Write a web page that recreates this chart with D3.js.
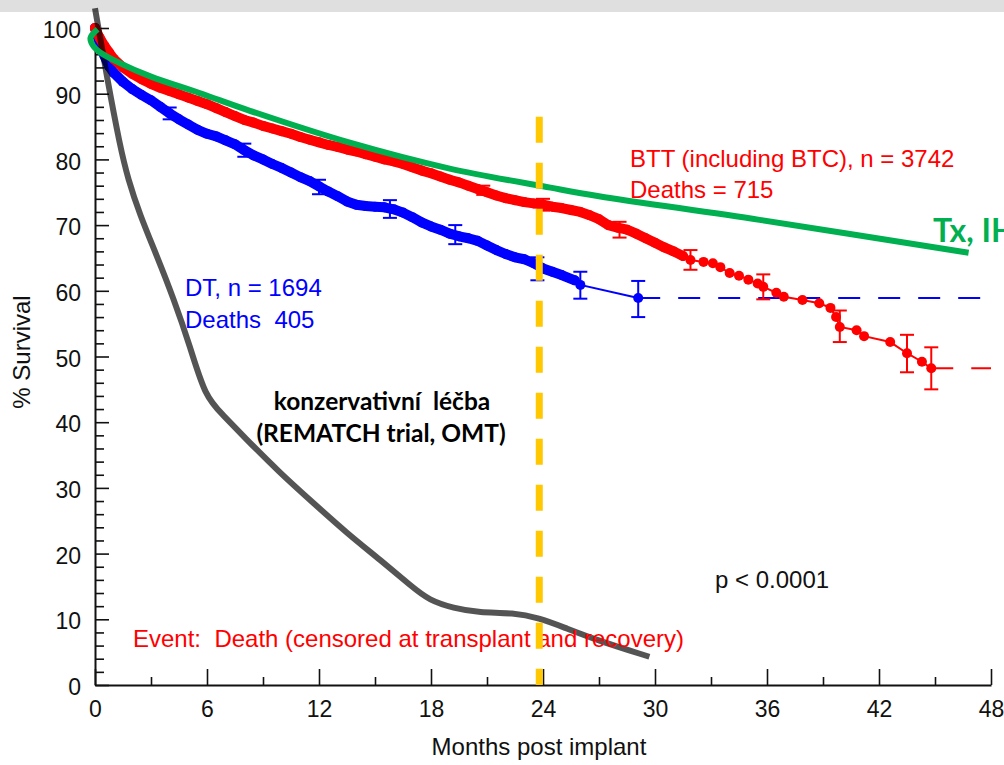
<!DOCTYPE html>
<html>
<head>
<meta charset="utf-8">
<script src="https://cdn.jsdelivr.net/npm/d3@7"></script>
<style>
  html, body { margin: 0; padding: 0; background: #fff; }
  svg { display: block; }
  text { font-family: Arial, "Liberation Sans", sans-serif; }
</style>
</head>
<body>
<svg id="chart" width="1004" height="765"></svg>
<script>
// BTT (incl. BTC) Kaplan-Meier points: [month, % survival]
const btt = [[0,100],[0.1,99.3],[0.25,98.5],[0.5,97.3],[0.75,96.3],[1,95.3],[1.5,94],[2,93],[2.5,92.2],[3,91.5],
  [3.5,90.9],[4,90.4],[4.5,89.9],[5,89.4],[5.5,88.9],[6,88.4],[6.5,87.8],[7,87.2],[7.5,86.6],[8,86],
  [8.5,85.6],[9,85.1],[9.5,84.7],[10,84.3],[10.5,83.9],[11,83.4],[11.5,83],[12,82.6],[12.5,82.2],[13,81.9],
  [13.5,81.5],[14,81.2],[14.5,80.8],[15,80.4],[15.5,80],[16,79.7],[16.5,79.3],[17,78.8],[17.5,78.3],[18,77.9],
  [18.5,77.4],[19,76.9],[19.5,76.5],[20,76],[20.5,75.5],[21,75],[21.5,74.5],[22,74.1],[22.5,73.8],[23,73.5],
  [23.5,73.3],[24,73.1],[24.5,72.8],[25,72.6],[25.5,72.3],[26,72],[26.5,71.5],[27,70.9],[27.5,70],[28,69.6],
  [28.5,69.3],[29,68.7],[29.5,68],[30,67.3],[30.5,66.6],[31,66],[31.5,65.3],[31.9,64.7],[32.6,64.4],[33.1,64.2],
  [33.5,63.6],[34,62.7],[34.5,62.3],[35,61.7],[35.5,61.1],[35.8,60.6],[36.5,59.7],[36.9,59.1],[37.9,58.6],[38.8,58.1],
  [39.4,57.4],[39.7,56],[39.9,54.5],[40.8,54],[41.2,53.1],[42.6,52.2],[43.5,50.5],[44.3,49.2],[44.8,48.2]];

// DT Kaplan-Meier points
const dt = [[0,100],[0.1,99],[0.25,97.8],[0.5,95.8],[0.75,94.2],[1,93.2],[1.5,91.8],[2,90.7],[2.5,89.8],[3,89],
  [3.5,88],[4,87],[4.5,86.1],[5,85.3],[5.5,84.5],[6,83.9],[6.5,83.5],[7,82.9],[7.5,82.3],[8,81.4],
  [8.5,80.6],[9,80],[9.5,79.3],[10,78.7],[10.5,78],[11,77.3],[11.5,76.7],[12,75.9],[12.5,75.1],[13,74.4],
  [13.5,73.6],[14,73.1],[14.5,72.9],[15,72.8],[15.5,72.7],[16,72.4],[16.5,71.9],[17,71.2],[17.5,70.4],[18,69.8],
  [18.5,69.3],[19,68.7],[19.5,68.3],[20,68],[20.5,67.6],[21,66.9],[21.5,66.2],[22,65.6],[22.5,65.1],[23,64.8],
  [23.5,64.2],[24,63.4],[24.5,62.9],[25,62.4],[25.7,61.6],[26,60.9],[29.1,58.9]];

// confidence bars: [month, low, high]
const bttErr = [[20.8,74.6,76],[24,72.2,74],[28.1,68.1,70.5],[31.9,63.2,66.2],
  [35.8,58.7,62.5],[39.9,52.2,57],[43.5,47.6,53.3],[44.8,45,51.4]];
const dtErr = [[4,86.1,87.9],[8,80.4,82.4],[12,74.7,76.9],[15.8,71.1,73.8],[19.3,67.1,70],[23.7,61.6,65.1],
  [26,58.8,62.9],[29.1,56,61.5]];

// transplant (green) and optimal medical therapy (grey) curves
const tx = [[0.14,99.8],[-0.24,98.5],[-0.1,97.3],[0.27,96.3],[1.3,94.7],[3,92.6],[5.6,90.1],[8.3,87.4],
  [13.7,82.5],[19,78.6],[24.4,75.7],[27,74.4],[35.6,70.8],[46.8,65.8]];
const omt = [[0,103],[0.64,92.5],[1.34,82],[1.77,77],[2.4,71.6],[3.3,65.4],[4.2,58.9],[5.1,51.5],[5.9,43.8],
  [6.9,41],[7.9,38],[9.9,32.3],[11.7,27.7],[13.5,23.1],[15.3,19],[17,14.9],[17.9,12.9],[19.2,11.7],
  [20.6,11],[22.4,11],[23.8,10.2],[25.1,8.8],[26.9,6.8],[29.7,4.3]];

const markerMonth = 23.8;
const markerTop = 86.5;
const censorEnd = 48;

const xMajor = [0, 6, 12, 18, 24, 30, 36, 42, 48];
const xMinor = [3, 9, 15, 21, 27, 33, 39, 45];
const yMajor = [0, 10, 20, 30, 40, 50, 60, 70, 80, 90, 100];
const yMinor = [2,4,6,8,12,14,16,18,22,24,26,28,32,34,36,38,42,44,46,48,52,54,56,58,62,64,66,68,72,74,76,78,82,84,86,88,92,94,96,98];

const svg = d3.select('#chart');
const x = d3.scaleLinear().domain([0, 48]).range([95, 991]);
const y = d3.scaleLinear().domain([0, 100]).range([685, 28]);

svg.append('rect').attr('width', 1004).attr('height', 12).attr('fill', '#dfdfdf');

// axes
const gy = svg.append('g').attr('transform', 'translate(95,0)')
  .call(d3.axisLeft(y).tickValues(yMajor).tickSize(-14).tickSizeOuter(0).tickPadding(14));
svg.append('g').attr('transform', 'translate(95,0)')
  .call(d3.axisLeft(y).tickValues(yMinor).tickSize(-9).tickFormat(''))
  .call(g => g.select('.domain').remove());
const gx = svg.append('g').attr('transform', 'translate(0,685)')
  .call(d3.axisBottom(x).tickValues(xMajor).tickSize(-16).tickSizeOuter(0).tickPadding(16));
svg.append('g').attr('transform', 'translate(0,685)')
  .call(d3.axisBottom(x).tickValues(xMinor).tickSize(-8).tickFormat(''))
  .call(g => g.select('.domain').remove());

svg.selectAll('.domain').attr('stroke', '#111').attr('stroke-width', 2);
svg.selectAll('.tick line').attr('stroke', '#111').attr('stroke-width', 1.6);
svg.selectAll('.tick text').attr('font-size', 23).attr('fill', '#111')
  .attr('font-family', 'Arial, "Liberation Sans", sans-serif');
gy.selectAll('.tick text').attr('dy', '0.42em');

svg.append('text').attr('transform', 'translate(30,352) rotate(-90)')
  .attr('text-anchor', 'middle').attr('font-size', 24).attr('fill', '#111').text('% Survival');
svg.append('text').attr('x', 539).attr('y', 755)
  .attr('text-anchor', 'middle').attr('font-size', 24).attr('fill', '#111').text('Months post implant');

// Kaplan-Meier series: dense events merge into a thick band, sparse tail shows single dots
function drawKM(data, err, color, denseUntil) {
  const g = svg.append('g');
  const line = d3.line().x(d => x(d[0])).y(d => y(d[1]));
  const last = data[data.length - 1];
  g.append('line')
    .attr('x1', x(last[0])).attr('x2', x(censorEnd))
    .attr('y1', y(last[1])).attr('y2', y(last[1]))
    .attr('stroke', color).attr('stroke-width', 2).attr('stroke-dasharray', '22,18');
  g.append('path').datum(data)
    .attr('fill', 'none').attr('stroke', color).attr('stroke-width', 2).attr('d', line);
  const eb = g.selectAll('.eb').data(err).enter().append('g')
    .attr('stroke', color).attr('stroke-width', 2);
  eb.append('line').attr('x1', d => x(d[0])).attr('x2', d => x(d[0]))
    .attr('y1', d => y(d[1])).attr('y2', d => y(d[2]));
  eb.append('line').attr('x1', d => x(d[0]) - 7).attr('x2', d => x(d[0]) + 7)
    .attr('y1', d => y(d[1])).attr('y2', d => y(d[1]));
  eb.append('line').attr('x1', d => x(d[0]) - 7).attr('x2', d => x(d[0]) + 7)
    .attr('y1', d => y(d[2])).attr('y2', d => y(d[2]));
  g.append('path').datum(data.filter(d => d[0] <= denseUntil))
    .attr('fill', 'none').attr('stroke', color).attr('stroke-width', 10)
    .attr('stroke-linecap', 'round').attr('stroke-linejoin', 'round').attr('d', line);
  g.selectAll('circle').data(data).enter().append('circle')
    .attr('cx', d => x(d[0])).attr('cy', d => y(d[1])).attr('r', 5).attr('fill', color);
}
drawKM(dt, dtErr, '#0000ff', 25.7);
drawKM(btt, bttErr, '#ff0000', 31.5);

svg.append('path').datum(omt)
  .attr('fill', 'none').attr('stroke', 'rgba(0,0,0,0.67)').attr('stroke-width', 6)
  .attr('d', d3.line().x(d => x(d[0])).y(d => y(d[1])).curve(d3.curveBasis));
svg.append('path').datum(tx)
  .attr('fill', 'none').attr('stroke', '#00b050').attr('stroke-width', 6)
  .attr('d', d3.line().x(d => x(d[0])).y(d => y(d[1])).curve(d3.curveCatmullRom.alpha(0.5)));

// annotations
const ann = svg.append('g').attr('font-size', 24);
ann.append('text').attr('x', 630).attr('y', 167).attr('fill', '#ff0000').text('BTT (including BTC), n = 3742');
ann.append('text').attr('x', 630).attr('y', 198).attr('fill', '#ff0000').text('Deaths = 715');
ann.append('text').attr('x', 185).attr('y', 296).attr('fill', '#0000ff').text('DT, n = 1694');
ann.append('text').attr('x', 185).attr('y', 328).attr('fill', '#0000ff').attr('xml:space', 'preserve').text('Deaths  405');
ann.append('text').attr('x', 715).attr('y', 588).attr('fill', '#111').text('p < 0.0001');
ann.append('text').attr('x', 133).attr('y', 647).attr('fill', '#ff0000').attr('xml:space', 'preserve')
  .text('Event:  Death (censored at transplant and recovery)');

const bold = svg.append('g').attr('font-weight', 'bold');
bold.append('text').attr('x', 382).attr('y', 410).attr('text-anchor', 'middle').attr('font-size', 24.5)
  .attr('fill', '#000').attr('xml:space', 'preserve').style('font-family', 'Lato, sans-serif').text('konzervativní  léčba');
bold.append('text').attr('x', 381).attr('y', 442).attr('text-anchor', 'middle').attr('font-size', 24.5)
  .attr('fill', '#000').style('font-family', 'Lato, sans-serif').text('(REMATCH trial, OMT)');
bold.append('text').attr('x', 933).attr('y', 242).attr('font-size', 32)
  .attr('fill', '#00b050').style('font-family', 'Lato, sans-serif').text('Tx, IHLT');

// vertical 24-month marker
svg.append('line')
  .attr('x1', x(markerMonth)).attr('x2', x(markerMonth))
  .attr('y1', y(markerTop)).attr('y2', y(0))
  .attr('stroke', '#ffc800').attr('stroke-width', 7).attr('stroke-dasharray', '26,20');
</script>
</body>
</html>
